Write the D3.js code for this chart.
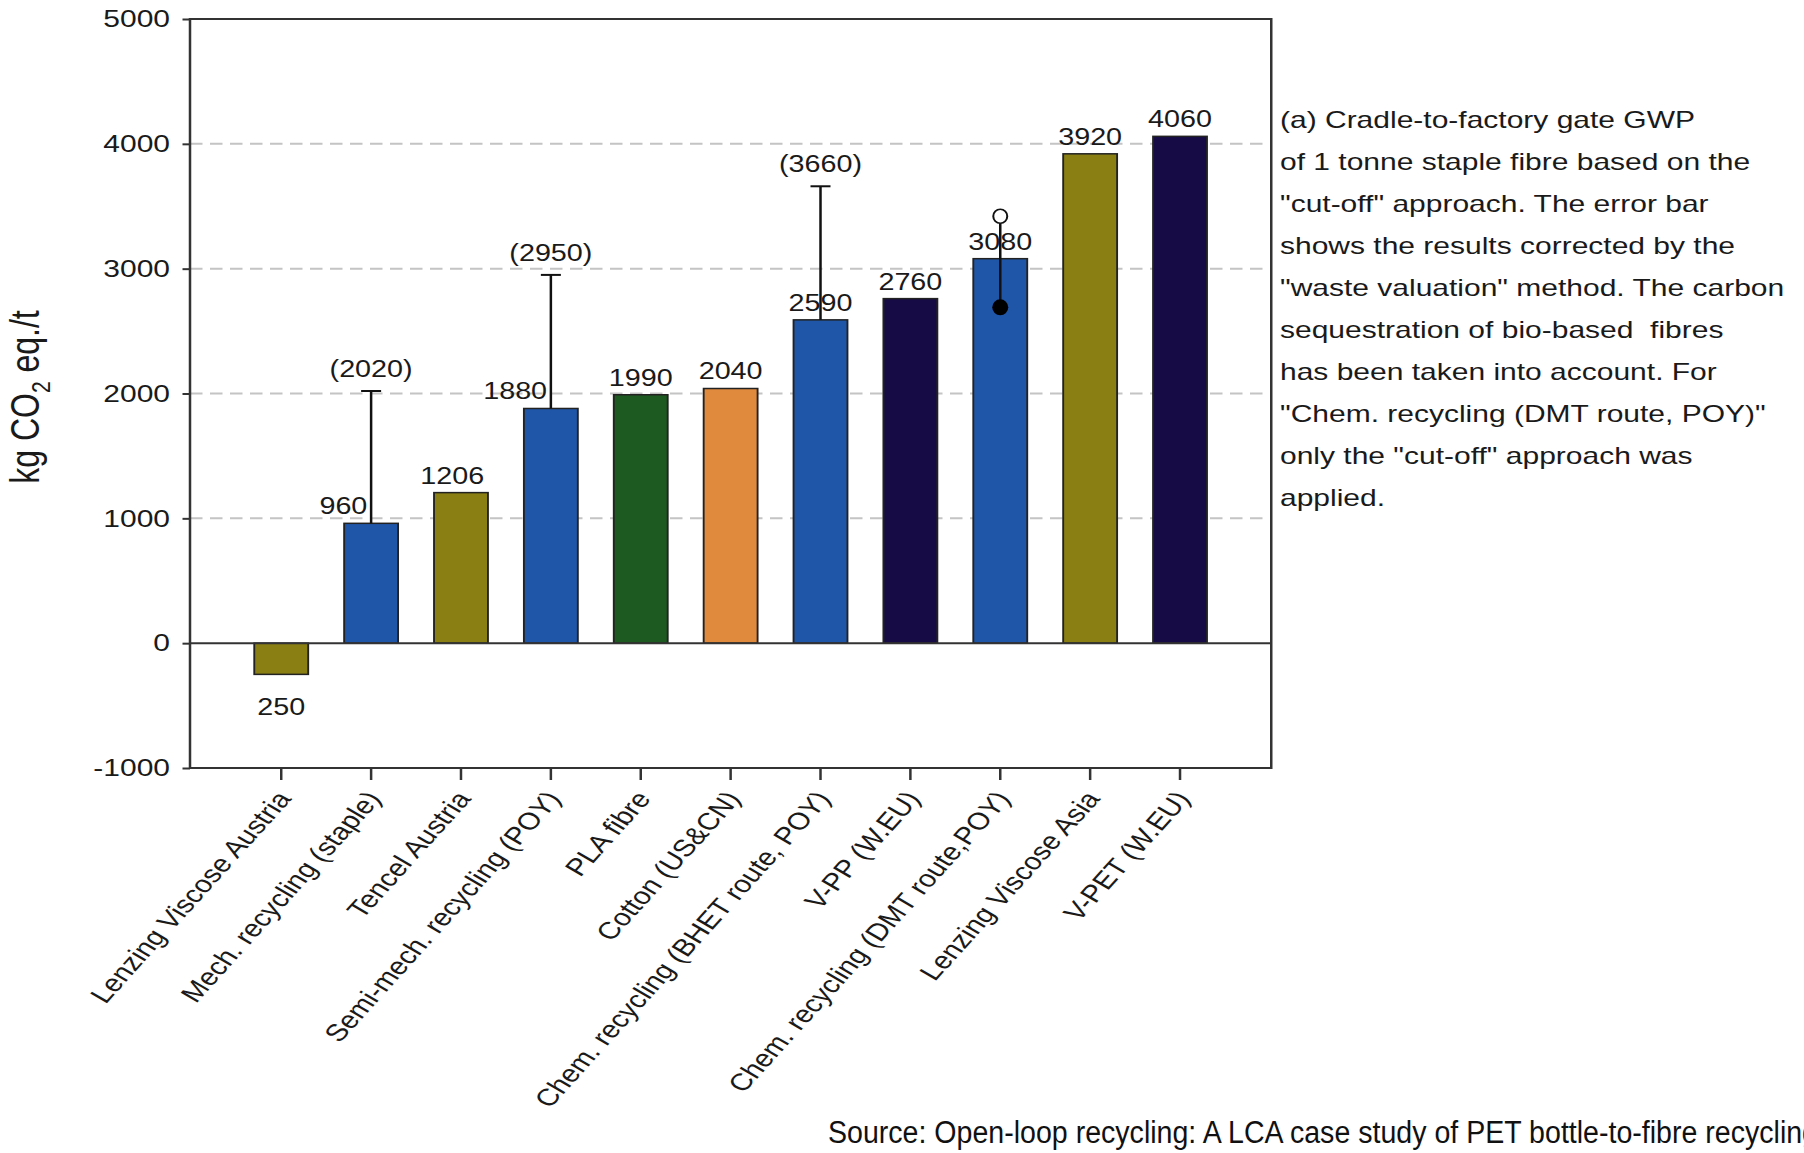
<!DOCTYPE html>
<html lang="en">
  <head>
    <meta charset="UTF-8" />
    <title>Cradle-to-factory gate GWP of staple fibres</title>
    <script src="https://d3js.org/d3.v7.min.js"></script>
    <style>
      body {
        margin: 0;
        background: #fff;
        overflow: hidden;
      }
      svg {
        position: absolute;
        top: 0;
        left: 0;
      }
      .chart text {
        font-family: "Liberation Sans", Arial, sans-serif;
        fill: #1a1a1a;
      }
      .source {
        font-family: "Liberation Sans Narrow", "Liberation Sans", sans-serif;
        font-size: 31px;
        fill: #111;
      }
    </style>
  </head>
  <body>
    <svg id="chart" class="chart"></svg>
    <svg id="overlay"></svg>
    <script>
      // Data
      var categories = [
        "Lenzing Viscose Austria",
        "Mech. recycling (staple)",
        "Tencel Austria",
        "Semi-mech. recycling (POY)",
        "PLA fibre",
        "Cotton (US&CN)",
        "Chem. recycling (BHET route, POY)",
        "V-PP (W.EU)",
        "Chem. recycling (DMT route,POY)",
        "Lenzing Viscose Asia",
        "V-PET (W.EU)"
      ];
      var values = [-250, 960, 1206, 1880, 1990, 2040, 2590, 2760, 3080, 3920, 4060];
      var valueLabels = ["250", "960", "1206", "1880", "1990", "2040", "2590", "2760", "3080", "3920", "4060"];
      var fibreGroup = ["cellulose", "recycled", "cellulose", "recycled", "bio", "cotton", "recycled", "virgin", "recycled", "cellulose", "virgin"];
      // "waste valuation" results (error bars)
      var errorTops = [null, 2020, null, 2950, null, null, 3660, null, null, null, null];
      // open / filled markers on the DMT route bar
      var dmtOpen = 3420;
      var dmtFilled = 2690;
      var yTicks = [-1000, 0, 1000, 2000, 3000, 4000, 5000];
      var gridValues = [1000, 2000, 3000, 4000];
      var noteLines = [
        "(a) Cradle-to-factory gate GWP",
        "of 1 tonne staple fibre based on the",
        "\"cut-off\" approach. The error bar",
        "shows the results corrected by the",
        "\"waste valuation\" method. The carbon",
        "sequestration of bio-based  fibres",
        "has been taken into account. For",
        "\"Chem. recycling (DMT route, POY)\"",
        "only the \"cut-off\" approach was",
        "applied."
      ];
      var sourceText = "Source: Open-loop recycling: A LCA case study of PET bottle-to-fibre recycling";

      var colors = {
        cellulose: "#8a7f12",
        recycled: "#2056a8",
        bio: "#1d5a22",
        cotton: "#e08a3e",
        virgin: "#170b45"
      };

      // the figure is stretched sideways, so draw in narrower units
      var fullW = 1804, H = 1153, SX = 1.25, W = fullW / SX;
      var plotL = 152, plotR = 1017, plotT = 19, plotB = 768;

      var svg = d3.select("#chart")
        .attr("width", fullW)
        .attr("height", H)
        .attr("viewBox", "0 0 " + W + " " + H)
        .attr("preserveAspectRatio", "none");

      var x = d3.scaleBand()
        .domain(categories)
        .range([plotL, plotR])
        .paddingInner(0.4)
        .paddingOuter(0.715);

      var y = d3.scaleLinear().domain([-1000, 5000]).range([plotB, plotT]);

      var data = categories.map(function (c, i) {
        return { name: c, value: values[i], label: valueLabels[i], group: fibreGroup[i], err: errorTops[i] };
      });

      // dashed grid
      svg.append("g")
        .selectAll("line")
        .data(gridValues)
        .enter()
        .append("line")
        .attr("x1", plotL)
        .attr("x2", plotR)
        .attr("y1", function (d) { return y(d); })
        .attr("y2", function (d) { return y(d); })
        .attr("stroke", "#c4c4c4")
        .attr("stroke-width", 2)
        .attr("stroke-dasharray", "10,6");

      // y axis
      var yAxis = svg.append("g")
        .attr("transform", "translate(" + plotL + ",0)")
        .call(d3.axisLeft(y).tickValues(yTicks).tickSize(6).tickPadding(10));
      yAxis.select(".domain").remove();
      yAxis.selectAll("line").attr("stroke", "#333").attr("stroke-width", 2);
      yAxis.selectAll("text")
        .attr("font-size", 24)
        .text(function (d) { return d < 0 ? "-" + Math.abs(d) : d; });

      // x axis
      var xAxis = svg.append("g")
        .attr("transform", "translate(0," + plotB + ")")
        .call(d3.axisBottom(x).tickSize(12).tickSizeOuter(0));
      xAxis.select(".domain").remove();
      xAxis.selectAll("line").attr("stroke", "#333").attr("stroke-width", 2);
      xAxis.selectAll("text")
        .attr("font-size", 24)
        .attr("text-anchor", "end")
        .attr("x", 0)
        .attr("y", 0)
        .attr("dy", "0.35em")
        .attr("transform", "translate(2,26) rotate(-54)");

      // bars
      svg.append("g")
        .selectAll("rect")
        .data(data)
        .enter()
        .append("rect")
        .attr("x", function (d) { return x(d.name); })
        .attr("width", x.bandwidth())
        .attr("y", function (d) { return y(Math.max(0, d.value)); })
        .attr("height", function (d) { return Math.abs(y(d.value) - y(0)); })
        .attr("fill", function (d) { return colors[d.group]; })
        .attr("stroke", "#222")
        .attr("stroke-width", 1.5);

      // zero line and frame
      svg.append("line")
        .attr("x1", plotL).attr("x2", plotR)
        .attr("y1", y(0)).attr("y2", y(0))
        .attr("stroke", "#333").attr("stroke-width", 2);
      svg.append("rect")
        .attr("x", plotL).attr("y", plotT)
        .attr("width", plotR - plotL).attr("height", plotB - plotT)
        .attr("fill", "none").attr("stroke", "#333").attr("stroke-width", 2);

      // error bars
      var errs = data.filter(function (d) { return d.err !== null; });
      var eg = svg.append("g").attr("stroke", "#111").attr("stroke-width", 2);
      errs.forEach(function (d) {
        var cx = x(d.name) + x.bandwidth() / 2;
        eg.append("line")
          .attr("x1", cx).attr("x2", cx)
          .attr("y1", y(d.value)).attr("y2", y(d.err));
        eg.append("line")
          .attr("x1", cx - 8).attr("x2", cx + 8)
          .attr("y1", y(d.err)).attr("y2", y(d.err));
        svg.append("text")
          .attr("x", cx)
          .attr("y", y(d.err) - 14)
          .attr("text-anchor", "middle")
          .attr("font-size", 23)
          .text("(" + d.err + ")");
      });

      // value labels
      var leftOfBar = ["Mech. recycling (staple)", "Semi-mech. recycling (POY)"];
      svg.append("g")
        .selectAll("text")
        .data(data)
        .enter()
        .append("text")
        .attr("font-size", 23)
        .attr("text-anchor", function (d) { return leftOfBar.indexOf(d.name) >= 0 ? "end" : "middle"; })
        .attr("x", function (d) {
          var cx = x(d.name) + x.bandwidth() / 2;
          if (leftOfBar.indexOf(d.name) >= 0) return cx - 3;
          if (d.name === "Tencel Austria") return cx - 7;
          return cx;
        })
        .attr("y", function (d) { return d.value < 0 ? y(d.value) + 41 : y(d.value) - 9; })
        .text(function (d) { return d.label; });

      // markers on the DMT route bar
      var dmt = categories[8];
      var dx = x(dmt) + x.bandwidth() / 2;
      svg.append("line")
        .attr("x1", dx).attr("x2", dx)
        .attr("y1", y(dmtOpen) + 7).attr("y2", y(dmtFilled))
        .attr("stroke", "#111").attr("stroke-width", 2);
      svg.append("ellipse")
        .attr("cx", dx).attr("cy", y(dmtOpen))
        .attr("rx", 7 / SX).attr("ry", 7)
        .attr("fill", "#fff").attr("stroke", "#111").attr("stroke-width", 1.6);
      svg.append("ellipse")
        .attr("cx", dx).attr("cy", y(dmtFilled))
        .attr("rx", 8 / SX).attr("ry", 8)
        .attr("fill", "#000");

      // y axis title
      var yt = svg.append("text")
        .attr("transform", "translate(31,397) rotate(-90)")
        .attr("text-anchor", "middle")
        .attr("font-size", 32);
      yt.append("tspan").text("kg CO");
      yt.append("tspan").attr("font-size", 21).attr("dy", 9).text("2");
      yt.append("tspan").attr("dy", -9).text(" eq./t");

      // explanatory note
      svg.append("g")
        .selectAll("text")
        .data(noteLines)
        .enter()
        .append("text")
        .attr("x", 1024)
        .attr("y", function (d, i) { return 128 + i * 42; })
        .attr("font-size", 24)
        .style("white-space", "pre")
        .text(function (d) { return d; });

      // source line (not stretched)
      d3.select("#overlay")
        .attr("width", fullW)
        .attr("height", H)
        .append("text")
        .attr("class", "source")
        .attr("x", 828)
        .attr("y", 1143)
        .attr("textLength", 990)
        .attr("lengthAdjust", "spacingAndGlyphs")
        .text(sourceText);
    </script>
  </body>
</html>
